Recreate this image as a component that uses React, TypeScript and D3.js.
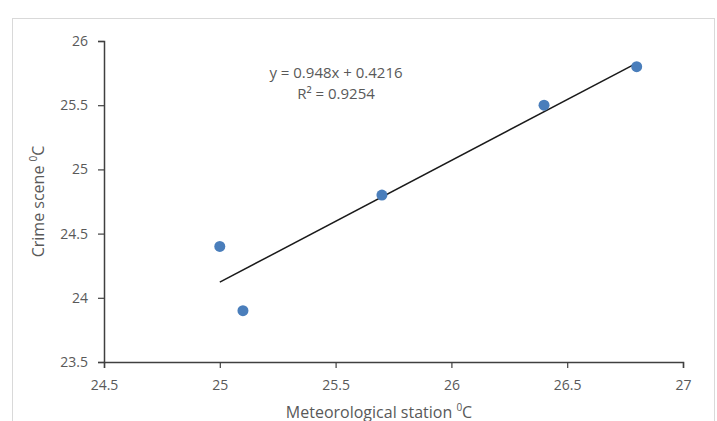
import { useRef, useEffect } from 'react';
import * as d3 from 'd3';

// Meteorological station vs crime scene temperatures
const stationTemps = [25.0, 25.1, 25.7, 26.4, 26.8];
const sceneTemps = [24.4, 23.9, 24.8, 25.5, 25.8];
const xTicks = [24.5, 25, 25.5, 26, 26.5, 27];
const yTicks = [23.5, 24, 24.5, 25, 25.5, 26];
const slope = 0.948;
const intercept = 0.4216;
const equationLines = ['y = 0.948x + 0.4216', 'R² = 0.9254'];

export default function App() {
    const svgRef = useRef<SVGSVGElement | null>(null);

    const drawChart = () => {
        const svg = d3.select(svgRef.current);
        svg.selectAll('*').remove();
        const font = '"Open Sans", "Liberation Sans", sans-serif';
        const textColor = '#595959';
        const axisColor = '#404040';

        // chart area border
        svg.append('rect')
            .attr('x', 12.5).attr('y', 18.5)
            .attr('width', 702).attr('height', 420)
            .attr('fill', 'white')
            .attr('stroke', '#d9d9d9');

        const x = d3.scaleLinear().domain([24.5, 27]).range([104, 683]);
        const y = d3.scaleLinear().domain([23.5, 26]).range([362, 41]);

        const xAxis = d3.axisBottom(x).tickValues(xTicks).tickFormat(d => String(d)).tickSizeOuter(0).tickSize(6);
        const yAxis = d3.axisLeft(y).tickValues(yTicks).tickFormat(d => String(d)).tickSizeOuter(0).tickSize(6);

        const gx = svg.append('g').attr('transform', `translate(0, ${y(23.5)})`).call(xAxis);
        const gy = svg.append('g').attr('transform', `translate(${x(24.5)}, 0)`).call(yAxis);

        [gx, gy].forEach(g => {
            g.select('.domain').attr('stroke', axisColor).attr('stroke-width', 1.5);
            g.selectAll('.tick line').attr('stroke', axisColor).attr('stroke-width', 1.2);
            g.selectAll('.tick text')
                .attr('fill', textColor)
                .style('font-family', font)
                .style('font-size', '14px');
        });
        gx.selectAll('.tick text').attr('y', 18);
        gy.selectAll('.tick text').attr('dx', '-0.5em');

        // trendline
        const xMin = d3.min(stationTemps) as number;
        const xMax = d3.max(stationTemps) as number;
        svg.append('line')
            .attr('x1', x(xMin)).attr('y1', y(slope * xMin + intercept))
            .attr('x2', x(xMax)).attr('y2', y(slope * xMax + intercept))
            .attr('stroke', '#1a1a1a')
            .attr('stroke-width', 1.5);

        // points
        svg.selectAll('.pt')
            .data(stationTemps)
            .enter()
            .append('circle')
            .attr('class', 'pt')
            .attr('cx', d => x(d))
            .attr('cy', (_, i) => y(sceneTemps[i]))
            .attr('r', 5.5)
            .attr('fill', '#4a7ebb');

        // equation
        svg.selectAll('.eq')
            .data(equationLines)
            .enter()
            .append('text')
            .attr('class', 'eq')
            .attr('x', 336)
            .attr('y', (_, i) => 78 + i * 21)
            .attr('text-anchor', 'middle')
            .attr('fill', textColor)
            .style('font-family', font)
            .style('font-size', '15px')
            .text(d => d);

        // axis titles
        const xt = svg.append('text')
            .attr('x', 379)
            .attr('y', 418)
            .attr('text-anchor', 'middle')
            .attr('fill', textColor)
            .style('font-family', font)
            .style('font-size', '16px');
        xt.append('tspan').text('Meteorological station ');
        xt.append('tspan').attr('font-size', '10px').attr('dy', -7).text('0');
        xt.append('tspan').attr('dy', 7).text('C');

        const yt = svg.append('text')
            .attr('transform', `translate(44, ${(y(23.5) + y(26)) / 2}) rotate(-90)`)
            .attr('text-anchor', 'middle')
            .attr('fill', textColor)
            .style('font-family', font)
            .style('font-size', '16px');
        yt.append('tspan').text('Crime scene ');
        yt.append('tspan').attr('font-size', '10px').attr('dy', -7).text('0');
        yt.append('tspan').attr('dy', 7).text('C');
    };

    useEffect(() => {
        drawChart();
    }, []);

    return (
        <svg
            ref={svgRef}
            width={717}
            height={421}
            style={{ position: 'absolute', left: 0, top: 0, background: 'white' }}
        ></svg>
    );
}
